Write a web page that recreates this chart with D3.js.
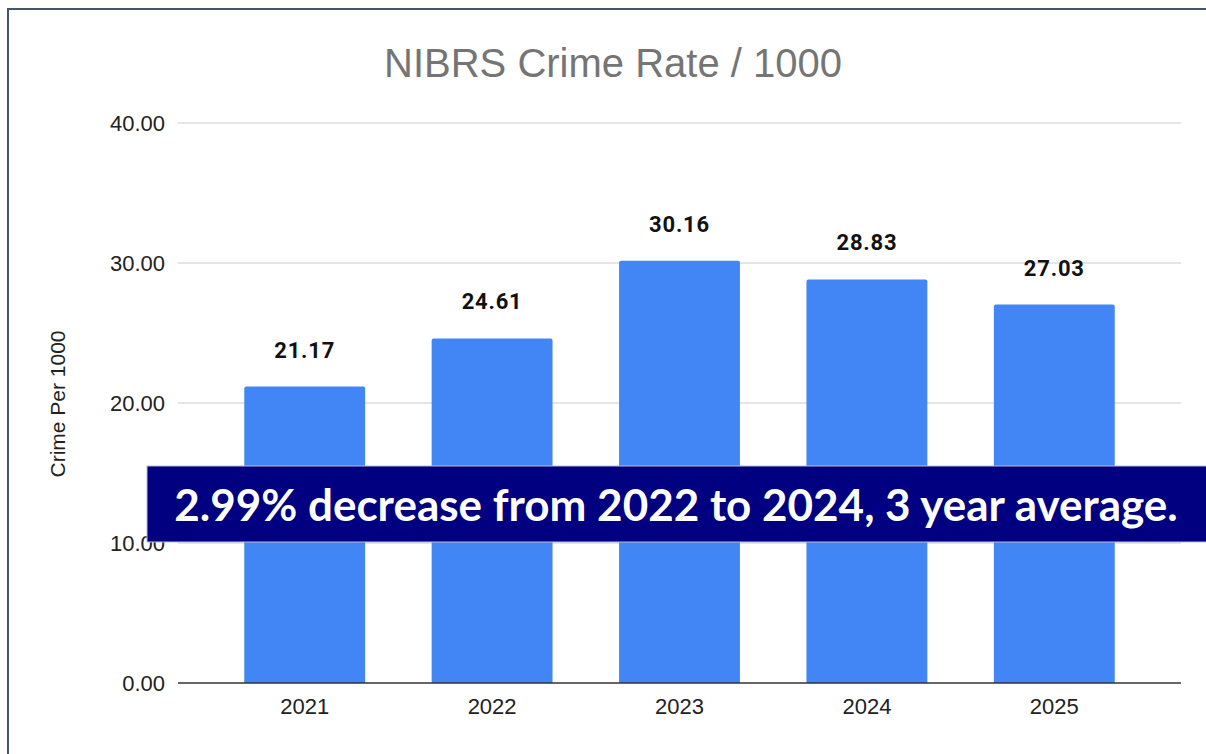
<!DOCTYPE html>
<html>
<head>
<meta charset="utf-8">
<script src="https://cdn.jsdelivr.net/npm/d3@7"></script>
<style>
  html, body { margin: 0; padding: 0; background: #fff; }
  svg { display: block; }
</style>
</head>
<body>
<svg id="chart" width="1206" height="754"></svg>
<script>
// Crime rate per 1000 residents, by year
const years = ["2021", "2022", "2023", "2024", "2025"];
const rates = [21.17, 24.61, 30.16, 28.83, 27.03];
const yTicks = [0, 10, 20, 30, 40];

const titleText = "NIBRS Crime Rate / 1000";
const yAxisTitle = "Crime Per 1000";
const bannerText = "2.99% decrease from 2022 to 2024, 3 year average.";

const svg = d3.select("#chart");
const W = 1206, H = 754;
const sans = "Liberation Sans, Arial, sans-serif";

// outer frame
svg.append("rect")
  .attr("x", 8).attr("y", 9)
  .attr("width", W + 10).attr("height", H + 10)
  .attr("fill", "#fff")
  .attr("stroke", "#44546a").attr("stroke-width", 2);

const gridLeft = 178, gridRight = 1181;
const x = d3.scaleBand().domain(years).range([211, 1148]).paddingInner(0.355).paddingOuter(0.1775);
const y = d3.scaleLinear().domain([0, 40]).range([683, 123]);

// title
svg.append("text")
  .attr("x", 613).attr("y", 77)
  .attr("text-anchor", "middle")
  .attr("font-family", sans)
  .attr("font-size", 40)
  .attr("fill", "#757575")
  .text(titleText);

// gridlines
svg.append("g").selectAll("line")
  .data(yTicks.filter(d => d !== 0))
  .join("line")
  .attr("x1", gridLeft).attr("x2", gridRight)
  .attr("y1", d => y(d)).attr("y2", d => y(d))
  .attr("stroke", "#cccccc").attr("stroke-width", 1.2);

// y axis labels
const yAxis = d3.axisLeft(y).tickValues(yTicks).tickFormat(d3.format(".2f")).tickSize(0).tickPadding(0);
const gy = svg.append("g").attr("transform", `translate(${gridLeft - 13},0)`).call(yAxis);
gy.select(".domain").remove();
gy.selectAll("text")
  .attr("font-family", sans)
  .attr("font-size", 22)
  .attr("fill", "#222")
  .attr("dy", "0.36em");

// y axis title
svg.append("text")
  .attr("transform", "translate(65,404) rotate(-90)")
  .attr("text-anchor", "middle")
  .attr("font-family", sans)
  .attr("font-size", 21)
  .attr("fill", "#222")
  .text(yAxisTitle);

// bars
const data = years.map((yr, i) => ({ yr, v: rates[i] }));
svg.append("g").selectAll("path")
  .data(data)
  .join("path")
  .attr("fill", "#4285f4")
  .attr("d", d => {
    const x0 = x(d.yr), w = x.bandwidth(), y0 = y(d.v), y1 = y(0), r = 2;
    return `M${x0},${y1}V${y0 + r}Q${x0},${y0} ${x0 + r},${y0}H${x0 + w - r}Q${x0 + w},${y0} ${x0 + w},${y0 + r}V${y1}Z`;
  });

// value labels
svg.append("g").selectAll("text")
  .data(data)
  .join("text")
  .attr("x", d => x(d.yr) + x.bandwidth() / 2)
  .attr("y", d => y(d.v) - 29)
  .attr("text-anchor", "middle")
  .attr("font-family", "Roboto, Liberation Sans, Arial, sans-serif")
  .attr("font-weight", "bold")
  .attr("font-size", 22)
  .attr("letter-spacing", 0.8)
  .attr("fill", "#111")
  .text(d => d3.format(".2f")(d.v));

// baseline
svg.append("line")
  .attr("x1", gridLeft).attr("x2", gridRight)
  .attr("y1", y(0)).attr("y2", y(0))
  .attr("stroke", "#333").attr("stroke-width", 1.5);

// x axis labels
const xAxis = d3.axisBottom(x).tickSize(0).tickPadding(0);
const gx = svg.append("g").attr("transform", `translate(0,${y(0) + 31})`).call(xAxis);
gx.select(".domain").remove();
gx.selectAll("text")
  .attr("font-family", sans)
  .attr("font-size", 22)
  .attr("fill", "#222")
  .attr("dy", 0);

// summary banner
svg.append("rect")
  .attr("x", 147).attr("y", 466)
  .attr("width", 1070).attr("height", 76)
  .attr("fill", "#000080")
  .attr("stroke", "#b8bcd8").attr("stroke-width", 1);
svg.append("text")
  .attr("x", 676).attr("y", 521)
  .attr("text-anchor", "middle")
  .attr("font-family", "Lato, Open Sans, sans-serif")
  .attr("font-weight", "bold")
  .attr("font-size", 44)
  .attr("fill", "#fff")
  .text(bannerText);
</script>
</body>
</html>
